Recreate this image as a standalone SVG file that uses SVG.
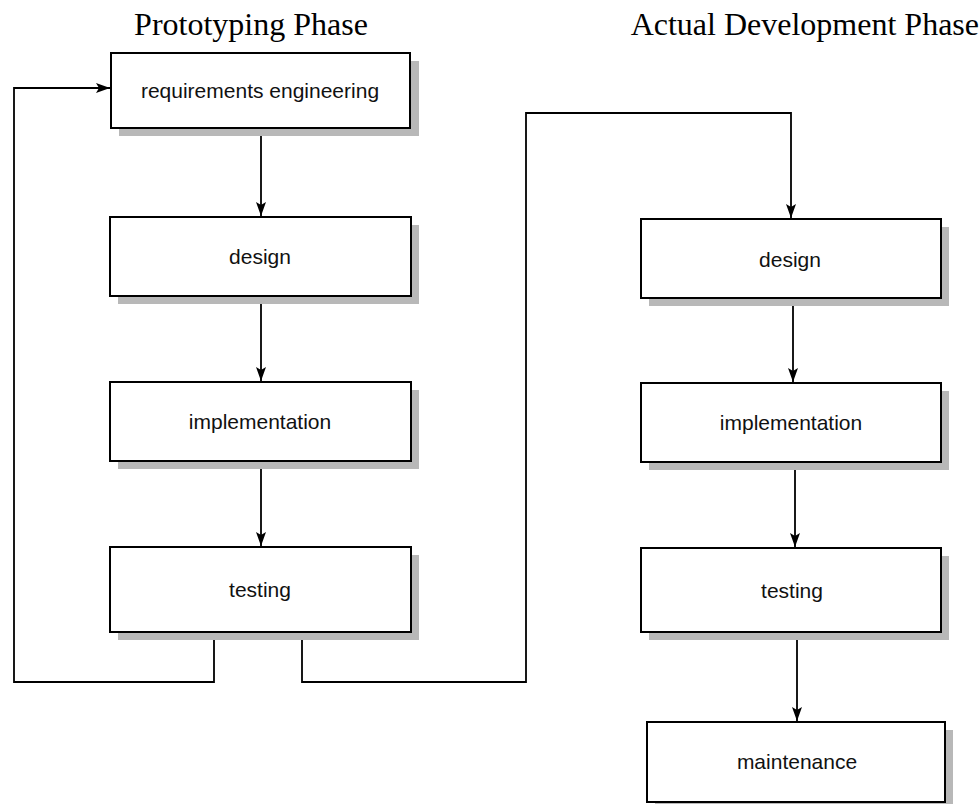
<svg xmlns="http://www.w3.org/2000/svg" width="979" height="804" viewBox="0 0 979 804">
<style>
.box{fill:#fff;stroke:#000;stroke-width:2}
.sh{fill:#b8b8b8}
.lbl{font-family:"Liberation Sans",Arial,sans-serif;font-size:21px;text-anchor:middle;fill:#111}
.hdr{font-family:"Liberation Serif","Times New Roman",serif;font-size:32px;fill:#000}
.ln{fill:none;stroke:#000;stroke-width:1.8}
</style>
<defs>
<marker id="ah" viewBox="0 0 14 10" refX="14" refY="5" markerWidth="14" markerHeight="10" markerUnits="userSpaceOnUse" orient="auto">
<path d="M0,0 L14,5 L0,10 L3,5 Z" fill="#000"/>
</marker>
</defs>
<rect width="979" height="804" fill="#fff"/>
<text class="hdr" x="251" y="35" text-anchor="middle">Prototyping Phase</text>
<text class="hdr" x="979" y="35" text-anchor="end">Actual Development Phase</text>

<g id="connectors">
<line class="ln" x1="261" y1="128" x2="261" y2="216" marker-end="url(#ah)"/>
<line class="ln" x1="261" y1="296" x2="261" y2="381" marker-end="url(#ah)"/>
<line class="ln" x1="261" y1="461" x2="261" y2="546" marker-end="url(#ah)"/>
<polyline class="ln" points="214,632 214,682 14,682 14,88 110,88" marker-end="url(#ah)"/>
<polyline class="ln" points="302,632 302,682 526,682 526,113 791,113 791,218" marker-end="url(#ah)"/>
<line class="ln" x1="793" y1="298" x2="793" y2="382" marker-end="url(#ah)"/>
<line class="ln" x1="795" y1="462" x2="795" y2="547" marker-end="url(#ah)"/>
<line class="ln" x1="797" y1="632" x2="797" y2="721" marker-end="url(#ah)"/>
</g>

<g id="req">
<rect class="sh" x="119" y="61" width="300" height="75"/>
<rect class="box" x="111" y="53" width="299" height="75"/>
<text class="lbl" x="260" y="98">requirements engineering</text>
</g>
<g id="design1">
<rect class="sh" x="118" y="225" width="301" height="79"/>
<rect class="box" x="110" y="217" width="301" height="79"/>
<text class="lbl" x="260" y="264">design</text>
</g>
<g id="impl1">
<rect class="sh" x="118" y="390" width="301" height="79"/>
<rect class="box" x="110" y="382" width="301" height="79"/>
<text class="lbl" x="260" y="429">implementation</text>
</g>
<g id="test1">
<rect class="sh" x="118" y="555" width="301" height="85"/>
<rect class="box" x="110" y="547" width="301" height="85"/>
<text class="lbl" x="260" y="597">testing</text>
</g>
<g id="design2">
<rect class="sh" x="649" y="227" width="300" height="79"/>
<rect class="box" x="641" y="219" width="300" height="79"/>
<text class="lbl" x="790" y="267">design</text>
</g>
<g id="impl2">
<rect class="sh" x="649" y="391" width="300" height="79"/>
<rect class="box" x="641" y="383" width="300" height="79"/>
<text class="lbl" x="791" y="430">implementation</text>
</g>
<g id="test2">
<rect class="sh" x="649" y="556" width="300" height="84"/>
<rect class="box" x="641" y="548" width="300" height="84"/>
<text class="lbl" x="792" y="598">testing</text>
</g>
<g id="maint">
<rect class="sh" x="655" y="730" width="298" height="80"/>
<rect class="box" x="647" y="722" width="298" height="80"/>
<text class="lbl" x="797" y="769">maintenance</text>
</g>
</svg>
